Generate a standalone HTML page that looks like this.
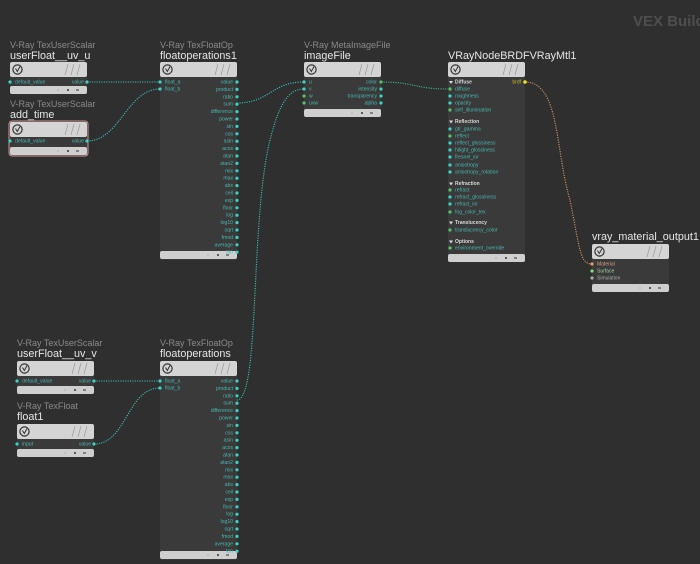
<!DOCTYPE html>
<html><head><meta charset="utf-8"><style>
html,body{margin:0;padding:0;background:#2f2f2f;}
svg{display:block;font-family:"Liberation Sans",sans-serif;}
.t{fill:#8a8a8a;font-size:9px}
.n{fill:#e6e6e6;font-size:10.8px}
.p{fill:#47b8ad;font-size:5.1px}
.s{fill:#d8d8d8;font-size:5px;font-weight:bold}
.c{fill:#3ad3c6}
.g{fill:#55c46a}
.w{stroke:#38c9bc;stroke-width:1.1;fill:none;stroke-dasharray:1.1 1.3}
</style></head><body>
<svg width="700" height="564" viewBox="0 0 700 564">
<defs>
<g id="hdr">
<rect x="0" y="0" width="77" height="15" rx="2" fill="#d4d4d4"/>
<circle cx="7.5" cy="7.5" r="4.6" fill="none" stroke="#333" stroke-width="1.2"/>
<path d="M5.5 6.5 L7.3 9.5 L10 4.5" stroke="#333" stroke-width="1" fill="none"/>
<path d="M55 13 L58 2 M61 13 L64 2 M67 13 L70 2" stroke="#999" stroke-width="0.7"/>
</g>
<g id="ftr">
<rect x="0" y="0" width="77" height="8" rx="2" fill="#cfcfcf"/>
<circle cx="48" cy="4" r="0.6" fill="#999"/><circle cx="58" cy="4" r="1" fill="#333"/><rect x="66" y="3.5" width="3" height="1" fill="#333"/>
</g>
</defs>
<text x="633" y="26" font-size="15" font-weight="bold" fill="#4e4e4e">VEX Builder</text>

<!-- wires -->
<path class="w" d="M87 82 L160 82"/>
<path class="w" d="M87 141 C120 141 127 89 160 89"/>
<path class="w" d="M237 103 C270 103 271 82 304 82"/>
<path class="w" d="M237 400 C260 400 250 220 270 140 C280 100 290 89 304 89"/>
<path class="w" d="M381 82 C415 82 414 89 448 89" style="stroke:#45b89a"/>
<path d="M525 82 C560 82 555 150 570 200 C580 250 580 264 592 264" fill="none" stroke="#d99a6c" stroke-width="1.1" stroke-dasharray="1.1 1.3"/>
<path class="w" d="M94 381 L160 381"/>
<path class="w" d="M94 444 C127 444 127 388 160 388"/>

<!-- userFloat__uv_u -->
<text class="t" x="10" y="48">V-Ray TexUserScalar</text>
<text class="n" x="10" y="59">userFloat__uv_u</text>
<rect x="10" y="62" width="77" height="31" rx="2" fill="#3a3a3a"/>
<use href="#hdr" x="10" y="62"/><use href="#ftr" x="10" y="86"/>
<circle class="c" cx="10" cy="82" r="1.6"/><circle class="c" cx="87" cy="82" r="1.6"/>
<text class="p" x="15" y="83.5">default_value</text><text class="p" x="84" y="83.5" text-anchor="end">value</text>

<!-- add_time -->
<text class="t" x="10" y="107">V-Ray TexUserScalar</text>
<text class="n" x="10" y="118">add_time</text>
<rect x="9" y="121" width="79" height="35" rx="3" fill="#3a3a3a" stroke="#c99a9a" stroke-width="1"/>
<use href="#hdr" x="10" y="122"/><use href="#ftr" x="10" y="147"/>
<circle class="c" cx="10" cy="141" r="1.6"/><circle class="c" cx="87" cy="141" r="1.6"/>
<text class="p" x="15" y="142.5">default_value</text><text class="p" x="84" y="142.5" text-anchor="end">value</text>

<!-- floatoperations1 -->
<text class="t" x="160" y="48">V-Ray TexFloatOp</text>
<text class="n" x="160" y="59">floatoperations1</text>
<rect x="160" y="62" width="77" height="198" rx="2" fill="#3a3a3a"/>
<use href="#hdr" x="160" y="62"/><use href="#ftr" x="160" y="251"/>
<g id="fo">
<circle class="c" cx="160" cy="82" r="1.6"/><circle class="c" cx="160" cy="89" r="1.6"/>
<text class="p" x="165" y="83.5">float_a</text><text class="p" x="165" y="90.5">float_b</text>
<g class="p" text-anchor="end">
<text x="233" y="83.5">value</text><text x="233" y="90.9">product</text><text x="233" y="98.3">ratio</text><text x="233" y="105.7">sum</text><text x="233" y="113.1">difference</text><text x="233" y="120.5">power</text><text x="233" y="127.9">sin</text><text x="233" y="135.3">cos</text><text x="233" y="142.7">asin</text><text x="233" y="150.1">acos</text><text x="233" y="157.5">atan</text><text x="233" y="164.9">atan2</text><text x="233" y="172.3">mix</text><text x="233" y="179.7">max</text><text x="233" y="187.1">abs</text><text x="233" y="194.5">ceil</text><text x="233" y="201.9">exp</text><text x="233" y="209.3">floor</text><text x="233" y="216.7">log</text><text x="233" y="224.1">log10</text><text x="233" y="231.5">sqrt</text><text x="233" y="238.9">fmod</text><text x="233" y="246.3">average</text><text x="233" y="253.7">tan</text>
</g>
<g class="c">
<circle cx="237" cy="82" r="1.6"/><circle cx="237" cy="89.4" r="1.6"/><circle cx="237" cy="96.8" r="1.6"/><circle cx="237" cy="104.2" r="1.6"/><circle cx="237" cy="111.6" r="1.6"/><circle cx="237" cy="119" r="1.6"/><circle cx="237" cy="126.4" r="1.6"/><circle cx="237" cy="133.8" r="1.6"/><circle cx="237" cy="141.2" r="1.6"/><circle cx="237" cy="148.6" r="1.6"/><circle cx="237" cy="156" r="1.6"/><circle cx="237" cy="163.4" r="1.6"/><circle cx="237" cy="170.8" r="1.6"/><circle cx="237" cy="178.2" r="1.6"/><circle cx="237" cy="185.6" r="1.6"/><circle cx="237" cy="193" r="1.6"/><circle cx="237" cy="200.4" r="1.6"/><circle cx="237" cy="207.8" r="1.6"/><circle cx="237" cy="215.2" r="1.6"/><circle cx="237" cy="222.6" r="1.6"/><circle cx="237" cy="230" r="1.6"/><circle cx="237" cy="237.4" r="1.6"/><circle cx="237" cy="244.8" r="1.6"/><circle cx="237" cy="252.2" r="1.6"/>
</g>
</g>

<!-- floatoperations (bottom) -->
<text class="t" x="160" y="346">V-Ray TexFloatOp</text>
<text class="n" x="160" y="357">floatoperations</text>
<rect x="160" y="361" width="77" height="199" rx="2" fill="#3a3a3a"/>
<use href="#hdr" x="160" y="361"/><use href="#ftr" x="160" y="551"/>
<use href="#fo" x="0" y="299"/>

<!-- imageFile -->
<text class="t" x="304" y="48">V-Ray MetaImageFile</text>
<text class="n" x="304" y="59">imageFile</text>
<rect x="304" y="62" width="77" height="55" rx="2" fill="#3a3a3a"/>
<use href="#hdr" x="304" y="62"/><use href="#ftr" x="304" y="109"/>
<circle class="c" cx="304" cy="82" r="1.6"/><circle class="c" cx="304" cy="89" r="1.6"/><circle class="g" cx="304" cy="96" r="1.6"/><circle class="g" cx="304" cy="103" r="1.6"/>
<text class="p" x="309" y="83.5">u</text><text class="p" x="309" y="90.5">v</text><text class="p" x="309" y="97.5">w</text><text class="p" x="309" y="104.5">uvw</text>
<circle class="g" cx="381" cy="82" r="1.6"/><circle class="c" cx="381" cy="89" r="1.6"/><circle class="c" cx="381" cy="96" r="1.6"/><circle class="c" cx="381" cy="103" r="1.6"/>
<g class="p" text-anchor="end"><text x="377" y="83.5">color</text><text x="377" y="90.5">intensity</text><text x="377" y="97.5">transparency</text><text x="377" y="104.5">alpha</text></g>

<!-- VRayNodeBRDFVRayMtl1 -->
<text class="n" x="448" y="59">VRayNodeBRDFVRayMtl1</text>
<rect x="448" y="62" width="77" height="200" rx="2" fill="#3a3a3a"/>
<use href="#hdr" x="448" y="62"/><use href="#ftr" x="448" y="254"/>
<circle cx="525" cy="82" r="1.8" fill="#f0e020"/><text x="521" y="83.5" font-size="5" fill="#c8b820" text-anchor="end">brdf</text>
<g class="s">
<text x="455" y="83.5">Diffuse</text><text x="455" y="123">Reflection</text><text x="455" y="185">Refraction</text><text x="455" y="224">Translucency</text><text x="455" y="243">Options</text>
</g>
<g fill="#ddd"><path d="M449 81 L453 81 L451 84Z"/><path d="M449 120.5 L453 120.5 L451 123.5Z"/><path d="M449 182.5 L453 182.5 L451 185.5Z"/><path d="M449 221.5 L453 221.5 L451 224.5Z"/><path d="M449 240.5 L453 240.5 L451 243.5Z"/></g>
<g class="p">
<text x="455" y="90.5">diffuse</text><text x="455" y="97.5">roughness</text><text x="455" y="104.5">opacity</text><text x="455" y="111.5">self_illumination</text>
<text x="455" y="130.5">gtr_gamma</text><text x="455" y="137.5">reflect</text><text x="455" y="144.5">reflect_glossiness</text><text x="455" y="151.5">hilight_glossiness</text><text x="455" y="158.5">fresnel_ior</text><text x="455" y="166.5">anisotropy</text><text x="455" y="173.5">anisotropy_rotation</text>
<text x="455" y="191.5">refract</text><text x="455" y="198.5">refract_glossiness</text><text x="455" y="205.5">refract_ior</text><text x="455" y="213.5">fog_color_tex</text>
<text x="455" y="231.5">translucency_color</text><text x="455" y="249.5">environment_override</text>
</g>
<g>
<circle class="g" cx="450" cy="89" r="1.6"/><circle class="c" cx="450" cy="96" r="1.6"/><circle class="c" cx="450" cy="103" r="1.6"/><circle class="g" cx="450" cy="110" r="1.6"/>
<circle class="c" cx="450" cy="129" r="1.6"/><circle class="g" cx="450" cy="136" r="1.6"/><circle class="c" cx="450" cy="143" r="1.6"/><circle class="c" cx="450" cy="150" r="1.6"/><circle class="c" cx="450" cy="157" r="1.6"/><circle class="c" cx="450" cy="165" r="1.6"/><circle class="c" cx="450" cy="172" r="1.6"/>
<circle class="g" cx="450" cy="190" r="1.6"/><circle class="c" cx="450" cy="197" r="1.6"/><circle class="c" cx="450" cy="204" r="1.6"/><circle class="g" cx="450" cy="212" r="1.6"/>
<circle class="g" cx="450" cy="230" r="1.6"/><circle class="g" cx="450" cy="248" r="1.6"/>
</g>

<!-- vray_material_output1 -->
<text class="n" x="592" y="240">vray_material_output1</text>
<rect x="592" y="244" width="77" height="48" rx="2" fill="#3a3a3a"/>
<use href="#hdr" x="592" y="244"/><use href="#ftr" x="592" y="284"/>
<circle cx="592" cy="264" r="1.6" fill="#e8a070"/><circle cx="592" cy="271" r="1.6" fill="#7fe07f"/><circle cx="592" cy="278" r="1.6" fill="#aaa"/>
<text x="597" y="265.5" font-size="5" fill="#d9a080">Material</text><text x="597" y="272.5" font-size="5" fill="#9fd09f">Surface</text><text x="597" y="279.5" font-size="5" fill="#aaa">Simulation</text>

<!-- userFloat__uv_v -->
<text class="t" x="17" y="346">V-Ray TexUserScalar</text>
<text class="n" x="17" y="357">userFloat__uv_v</text>
<rect x="17" y="361" width="77" height="32" rx="2" fill="#3a3a3a"/>
<use href="#hdr" x="17" y="361"/><use href="#ftr" x="17" y="386"/>
<circle class="c" cx="17" cy="381" r="1.6"/><circle class="c" cx="94" cy="381" r="1.6"/>
<text class="p" x="22" y="382.5">default_value</text><text class="p" x="91" y="382.5" text-anchor="end">value</text>

<!-- float1 -->
<text class="t" x="17" y="409">V-Ray TexFloat</text>
<text class="n" x="17" y="420">float1</text>
<rect x="17" y="424" width="77" height="33" rx="2" fill="#3a3a3a"/>
<use href="#hdr" x="17" y="424"/><use href="#ftr" x="17" y="449"/>
<circle class="c" cx="17" cy="444" r="1.6"/><circle class="c" cx="94" cy="444" r="1.6"/>
<text class="p" x="22" y="445.5">input</text><text class="p" x="91" y="445.5" text-anchor="end">value</text>
</svg>
</body></html>
